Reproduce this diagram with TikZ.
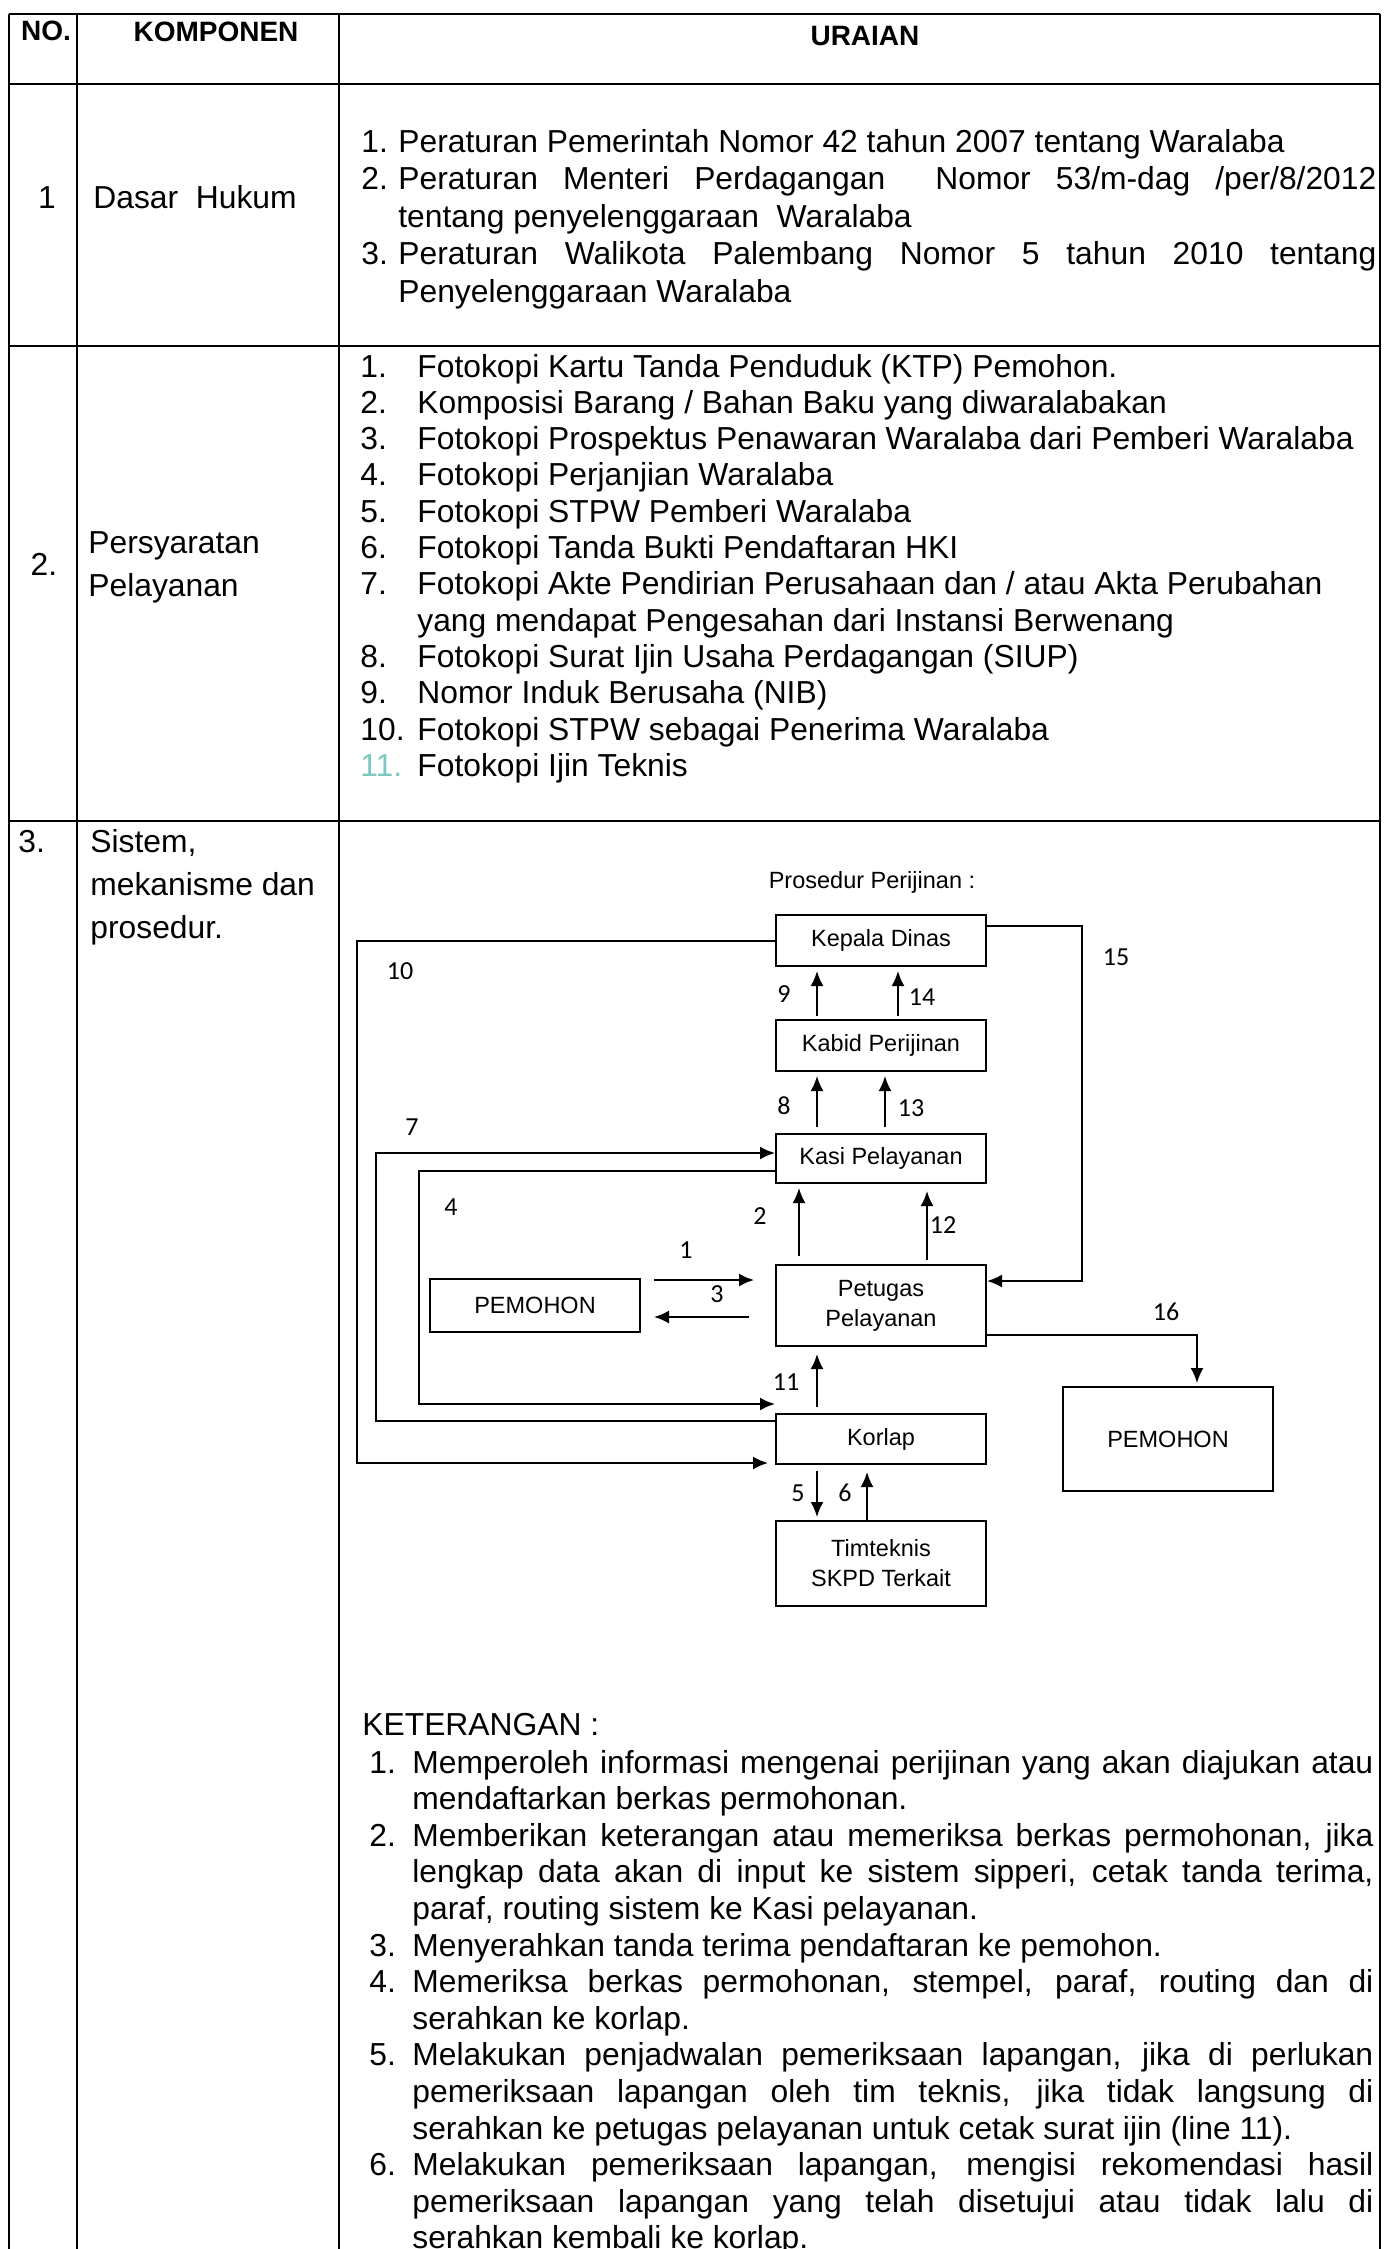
\documentclass[tikz,border=0pt]{standalone}
\usepackage{fontspec}
\setmainfont{Liberation Sans}
\newfontfamily\calfont{Carlito}
\usepackage{xcolor}
\usetikzlibrary{positioning, arrows.meta}
\definecolor{pudar}{RGB}{125,200,190}

\newcommand{\noa}[1]{\makebox[18.5pt][l]{#1}}
\newcommand{\nob}[1]{\makebox[28.5pt][l]{#1}}
\newcommand{\noc}[1]{\makebox[21.5pt][l]{#1}}
\newcommand{\rata}[2]{\makebox[#1][s]{#2}}

\begin{document}
\begin{tikzpicture}[x=0.5pt, y=-0.5pt,
  kotak/.style={rectangle, draw, line width=1pt, minimum width=105pt, inner sep=2pt, align=center, font=\fontsize{11.75}{15}\selectfont},
  panah/.style={line width=1pt, -{Latex[length=7.5pt, width=6.5pt]}},
  nomor/.style={inner sep=0pt, font=\calfont\fontsize{13}{15}\selectfont},
  isi/.style={inner sep=0pt, align=left, font=\fontsize{15.9}{18.75}\selectfont},
  judul/.style={inner sep=0pt, anchor=base, font=\bfseries\fontsize{14}{16}\selectfont},
  garis/.style={line width=0.8pt}]
  \useasboundingbox (0,0) rectangle (1386,2249);
  \clip (0,0) rectangle (1386,2249);

  % tabel
  \draw[garis] (9,14) -- (1380,14);
  \draw[garis] (9,84) -- (1380,84);
  \draw[garis] (9,346) -- (1380,346);
  \draw[garis] (9,821) -- (1380,821);
  \draw[garis] (9,14) -- (9,2260);
  \draw[garis] (77,14) -- (77,2260);
  \draw[garis] (339,14) -- (339,2260);
  \draw[garis] (1380,14) -- (1380,2260);

  \node[judul] (hno) at (46,40) {NO.};
  \node[judul] (hkomp) at (216,41) {KOMPONEN};
  \node[judul] (hurai) at (865,45) {URAIAN};

  % multi-line nodes: base = last line
  \node[isi, anchor=base] (no1) at (47,208) {1};
  \node[isi, anchor=base west] (komp1) at (93,208) {Dasar\ \ Hukum};
  \node[isi, anchor=base west] (dasar) at (361,302) {%
    \noa{1.}Peraturan Pemerintah Nomor 42 tahun 2007 tentang Waralaba\\
    \noa{2.}\rata{489pt}{Peraturan Menteri Perdagangan\ \ Nomor 53/m-dag /per/8/2012}\\
    \noa{}tentang penyelenggaraan\ \ Waralaba\\
    \noa{3.}\rata{489pt}{Peraturan Walikota Palembang Nomor 5 tahun 2010 tentang}\\
    \noa{}Penyelenggaraan Waralaba};

  \node[isi, anchor=base] (no2) at (44,575) {2.};
  \node[isi, anchor=base west, font=\fontsize{15.9}{21.5}\selectfont] (komp2) at (88,596) {Persyaratan\\Pelayanan};
  \node[isi, anchor=base west, font=\fontsize{15.9}{18.15}\selectfont] (syarat) at (360,776.3) {%
    \nob{1.}Fotokopi Kartu Tanda Penduduk (KTP) Pemohon.\\
    \nob{2.}Komposisi Barang / Bahan Baku yang diwaralabakan\\
    \nob{3.}Fotokopi Prospektus Penawaran Waralaba dari Pemberi Waralaba\\
    \nob{4.}Fotokopi Perjanjian Waralaba\\
    \nob{5.}Fotokopi STPW Pemberi Waralaba\\
    \nob{6.}Fotokopi Tanda Bukti Pendaftaran HKI\\
    \nob{7.}Fotokopi Akte Pendirian Perusahaan dan / atau Akta Perubahan\\
    \nob{}yang mendapat Pengesahan dari Instansi Berwenang\\
    \nob{8.}Fotokopi Surat Ijin Usaha Perdagangan (SIUP)\\
    \nob{9.}Nomor Induk Berusaha (NIB)\\
    \nob{10.}Fotokopi STPW sebagai Penerima Waralaba\\
    \nob{\textcolor{pudar}{11.}}Fotokopi Ijin Teknis};

  \node[isi, anchor=base west] (no3) at (18,852) {3.};
  \node[isi, anchor=base west, font=\fontsize{15.9}{21.5}\selectfont] (komp3) at (90,938) {Sistem,\\mekanisme dan\\prosedur.};

  % bagan prosedur
  \node[isi, anchor=base, font=\fontsize{11.75}{14}\selectfont] (judulbagan) at (872,888) {Prosedur Perijinan :};
  \node[kotak, minimum height=25.5pt] (kepala) at (881,940.5) {Kepala Dinas};
  \node[kotak, minimum height=25.5pt, below=26pt of kepala] (kabid) {Kabid Perijinan};
  \node[kotak, minimum height=24.5pt, below=30.5pt of kabid] (kasi) {Kasi Pelayanan};
  \node[kotak, minimum height=40.5pt, below=40pt of kasi] (petugas) {Petugas\\Pelayanan};
  \node[kotak, minimum height=25pt, below=33pt of petugas] (korlap) {Korlap};
  \node[kotak, minimum height=42.5pt, below=27.5pt of korlap] (timteknis) {Timteknis\\SKPD Terkait};
  \node[kotak, minimum height=26.5pt, left=67pt of petugas] (pemohonA) {PEMOHON};
  \node[kotak, minimum height=52pt, right=37.5pt of korlap] (pemohonB) {PEMOHON};

  \draw[panah] ([xshift=6.5pt,yshift=12.75pt]pemohonA.east) -- ([xshift=-10.5pt,yshift=12.75pt]petugas.west);
  \draw[panah] ([xshift=-41pt,yshift=4pt]petugas.north) -- ([xshift=-41pt,yshift=-2pt]kasi.south);
  \draw[panah] ([xshift=-13pt,yshift=-5.75pt]petugas.west) -- ([xshift=6.5pt,yshift=-5.75pt]pemohonA.east);
  \draw[panah] ([yshift=-6.25pt]kasi.west) -- ++(-356,0) |- ([yshift=4.5pt]korlap.north west);
  \draw[panah] ([xshift=-32pt,yshift=-3pt]korlap.south) -- ([xshift=-32pt,yshift=1.5pt]timteknis.north);
  \draw[panah] ([xshift=-7pt]timteknis.north) -- ([xshift=-7pt,yshift=-3.5pt]korlap.south);
  \draw[panah] ([yshift=-4pt]korlap.north west) -- ++(-399,0) |- ([yshift=2.75pt]kasi.west);
  \draw[panah] ([xshift=-32pt,yshift=3pt]kasi.north) -- ([xshift=-32pt,yshift=-2pt]kabid.south);
  \draw[panah] ([xshift=-32pt,yshift=1.5pt]kabid.north) -- ([xshift=-32pt,yshift=-2pt]kepala.south);
  \draw[panah] (kepala.west) -- ++(-418,0) |- ([xshift=-3.5pt,yshift=1pt]korlap.south west);
  \draw[panah] ([xshift=-32pt,yshift=3pt]korlap.north) -- ([xshift=-32pt,yshift=-3.5pt]petugas.south);
  \draw[panah] ([xshift=23pt,yshift=2pt]petugas.north) -- ([xshift=23pt,yshift=-3.5pt]kasi.south);
  \draw[panah] ([xshift=2pt,yshift=3pt]kasi.north) -- ([xshift=2pt,yshift=-2pt]kabid.south);
  \draw[panah] ([xshift=8.5pt,yshift=1.5pt]kabid.north) -- ([xshift=8.5pt,yshift=-2pt]kepala.south);
  \draw[panah] ([yshift=-6pt]kepala.north east) -- ++(95,0) |- ([yshift=-8.5pt]petugas.north east);
  \draw[panah] ([yshift=6pt]petugas.south east) -| ([xshift=14.5pt,yshift=1.5pt]pemohonB.north);

  \node[nomor] (l1) at (686,1250) {1};
  \node[nomor] (l2) at (760,1216) {2};
  \node[nomor] (l3) at (717,1294) {3};
  \node[nomor] (l4) at (451,1207) {4};
  \node[nomor] (l5) at (798,1493) {5};
  \node[nomor] (l6) at (845,1493) {6};
  \node[nomor] (l7) at (412,1127) {7};
  \node[nomor] (l8) at (784,1106) {8};
  \node[nomor] (l9) at (784,994) {9};
  \node[nomor] (l10) at (400,971) {10};
  \node[nomor] (l11) at (786,1382) {11};
  \node[nomor] (l12) at (943,1225) {12};
  \node[nomor] (l13) at (911,1108) {13};
  \node[nomor] (l14) at (922,997) {14};
  \node[nomor] (l15) at (1116,957) {15};
  \node[nomor] (l16) at (1166,1312) {16};

  % keterangan
  \node[isi, anchor=base west] (ket) at (362,1735) {KETERANGAN :};
  \node[isi, anchor=base west, font=\fontsize{15.9}{18.3}\selectfont] (ketlist) at (369,2248.8) {%
    \noc{1.}\rata{480.5pt}{Memperoleh informasi mengenai perijinan yang akan diajukan atau}\\
    \noc{}mendaftarkan berkas permohonan.\\
    \noc{2.}\rata{480.5pt}{Memberikan keterangan atau memeriksa berkas permohonan, jika}\\
    \noc{}\rata{480.5pt}{lengkap data akan di input ke sistem sipperi, cetak tanda terima,}\\
    \noc{}paraf, routing sistem ke Kasi pelayanan.\\
    \noc{3.}Menyerahkan tanda terima pendaftaran ke pemohon.\\
    \noc{4.}\rata{480.5pt}{Memeriksa berkas permohonan, stempel, paraf, routing dan di}\\
    \noc{}serahkan ke korlap.\\
    \noc{5.}\rata{480.5pt}{Melakukan penjadwalan pemeriksaan lapangan, jika di perlukan}\\
    \noc{}\rata{480.5pt}{pemeriksaan lapangan oleh tim teknis, jika tidak langsung di}\\
    \noc{}serahkan ke petugas pelayanan untuk cetak surat ijin (line 11).\\
    \noc{6.}\rata{480.5pt}{Melakukan pemeriksaan lapangan, mengisi rekomendasi hasil}\\
    \noc{}\rata{480.5pt}{pemeriksaan lapangan yang telah disetujui atau tidak lalu di}\\
    \noc{}serahkan kembali ke korlap.};
\end{tikzpicture}
\end{document}
